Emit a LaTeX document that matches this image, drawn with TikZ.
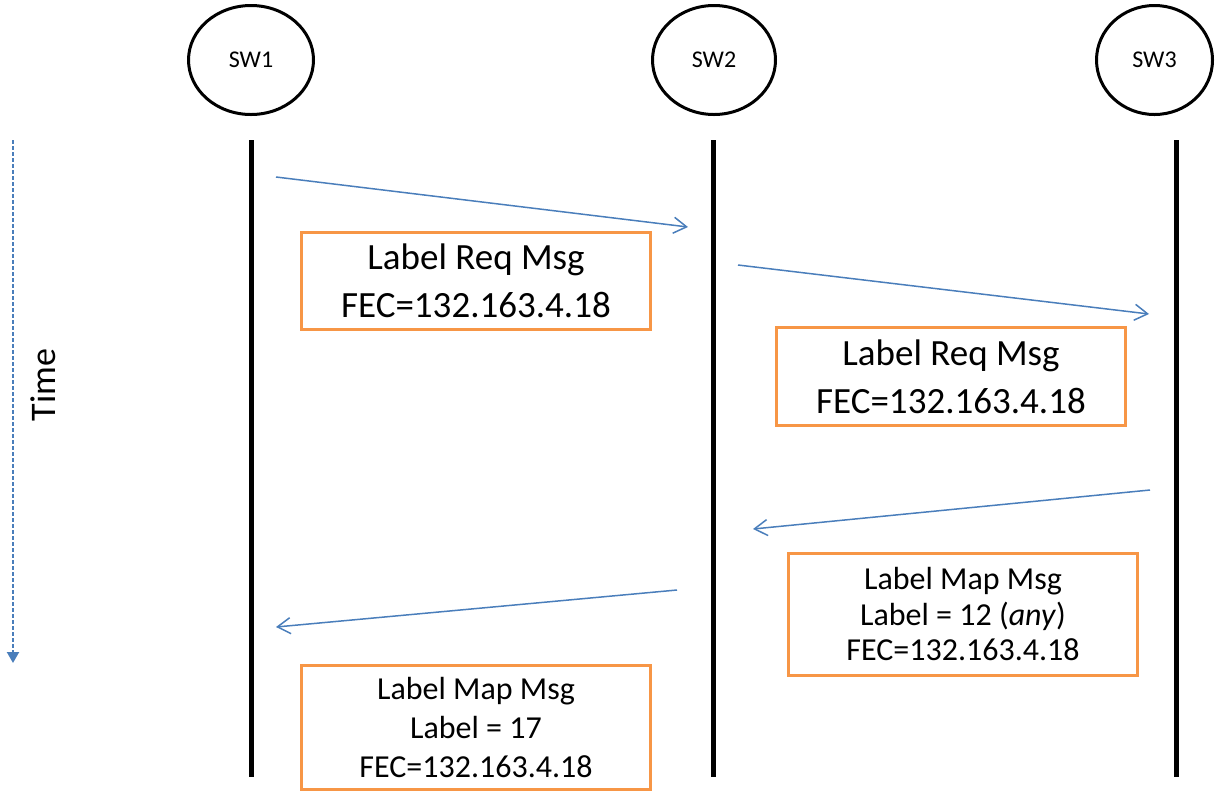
\documentclass[tikz,border=0pt]{standalone}
\usepackage{fontspec}
\setmainfont{Carlito}
\usetikzlibrary{arrows.meta,shapes.geometric}
\definecolor{msgblue}{RGB}{74,126,187}
\definecolor{boxorange}{RGB}{247,150,70}
\begin{document}
\begin{tikzpicture}[x=1pt,y=-1pt,
  swnode/.style={draw=black, line width=3pt, ellipse, inner sep=0pt,
    minimum height=109pt, font=\fontsize{24}{28}\selectfont},
  lifeline/.style={draw=black, line width=5pt},
  msg/.style={draw=msgblue, line width=1.5pt, -{Straight Barb[length=13pt,width=16pt]}},
  msgbox/.style={draw=boxorange, line width=3pt, inner sep=0pt, align=center,
    minimum width=349pt},
  bigtext/.style={font=\fontsize{37}{48}\selectfont},
  smalltext/.style={font=\fontsize{32}{38}\selectfont},
  timeline/.style={draw=msgblue, line width=2pt, dash pattern=on 4pt off 2pt,
    -{Triangle[length=11pt,width=12pt]}}
]
\useasboundingbox (0,0) rectangle (1215,807);

% switches
\node[swnode, minimum width=125pt] (sw1) at (251,60) {SW1};
\node[swnode, minimum width=123pt] (sw2) at (714,60) {SW2};
\node[swnode, minimum width=116pt] (sw3) at (1154.5,60) {SW3};

% lifelines
\coordinate (l1t) at (251.5,140); \coordinate (l1b) at (251.5,777);
\coordinate (l2t) at (713.5,140); \coordinate (l2b) at (713.5,777);
\coordinate (l3t) at (1176.5,140); \coordinate (l3b) at (1176.5,777);
\draw[lifeline] (l1t) -- (l1b);
\draw[lifeline] (l2t) -- (l2b);
\draw[lifeline] (l3t) -- (l3b);

% time axis
\coordinate (tt) at (13,140);
\coordinate (tb) at (13,663);
\draw[timeline] (tt) -- (tb);
\node[rotate=90, font=\fontsize{36}{40}\selectfont] (time) at (43,385) {Time};

% messages
\coordinate (a1s) at (276,177);  \coordinate (a1e) at (688,227);
\coordinate (a2s) at (738,265);  \coordinate (a2e) at (1149,314);
\coordinate (a3s) at (1150,490); \coordinate (a3e) at (753,529);
\coordinate (a4s) at (677,590);  \coordinate (a4e) at (276,627);
\draw[msg] (a1s) -- (a1e);
\draw[msg] (a2s) -- (a2e);
\draw[msg] (a3s) -- (a3e);
\draw[msg] (a4s) -- (a4e);

% boxes
\node[msgbox, bigtext, minimum height=97pt] (b1) at (476,281)
  {Label Req Msg\\FEC=132.163.4.18};
\node[msgbox, bigtext, minimum height=98pt] (b2) at (951,376.5)
  {Label Req Msg\\FEC=132.163.4.18};
\node[msgbox, font=\fontsize{32}{35.5}\selectfont, minimum height=122pt] (b3) at (963,614.5)
  {Label Map Msg\\Label = 12 (\textit{any})\\FEC=132.163.4.18};
\node[msgbox, font=\fontsize{32}{39}\selectfont, minimum height=124pt] (b4) at (476,727.5)
  {Label Map Msg\\Label = 17\\FEC=132.163.4.18};
\end{tikzpicture}
\end{document}
